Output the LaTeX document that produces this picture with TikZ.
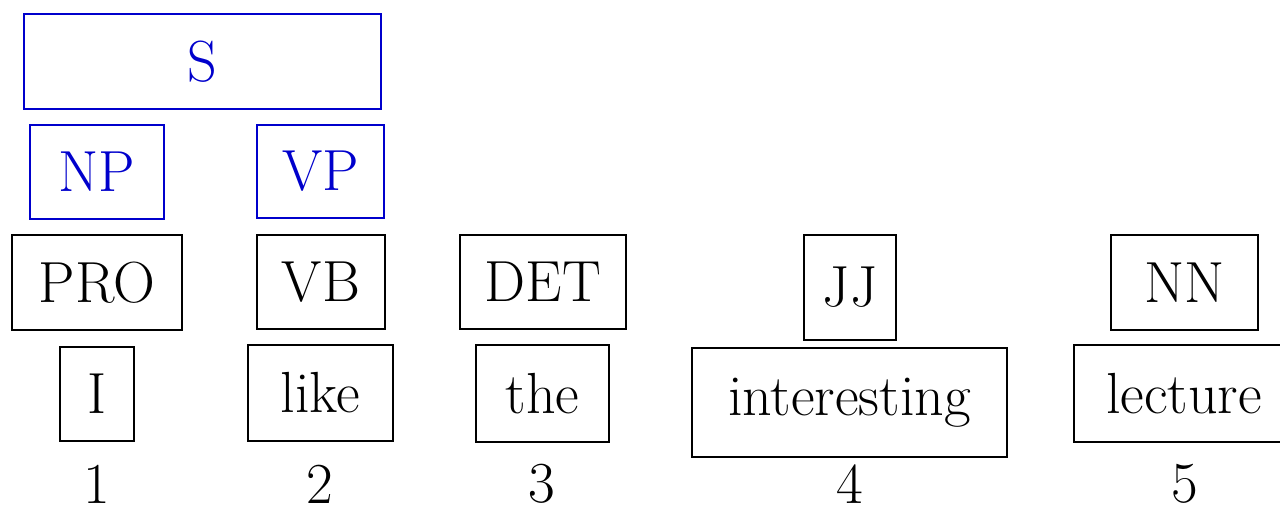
\documentclass[tikz,border=0pt]{standalone}
\definecolor{phraseblue}{RGB}{0,0,204}
\begin{document}
\begin{tikzpicture}[x=0.2mm,y=-0.2mm,
		box/.style={draw, line width=1.1pt, inner sep=0pt, font=\fontsize{33}{40}\selectfont},
		phrase/.style={box, draw=phraseblue, text=phraseblue},
		index/.style={inner sep=0pt, font=\fontsize{33}{40}\selectfont}]
		\useasboundingbox (0,0) rectangle (1280,507);
		% phrases
		\node[phrase, minimum width=71.4mm, minimum height=19mm] (s) at (202.5,61.5) {S};
		\node[phrase, minimum width=26.8mm, minimum height=18.8mm] (np) at (97,172) {NP};
		\node[phrase, minimum width=25.4mm, minimum height=18.6mm] (vp) at (320.5,171.5) {VP};
		% tags
		\node[box, minimum width=34mm, minimum height=19mm] (pro) at (97,282.5) {PRO};
		\node[box, minimum width=25.6mm, minimum height=18.8mm] (vb) at (321,282) {VB};
		\node[box, minimum width=33.2mm, minimum height=18.8mm] (det) at (543,282) {DET};
		\node[box, minimum width=18.4mm, minimum height=21mm] (jj) at (850,287.5) {JJ};
		\node[box, minimum width=29.4mm, minimum height=19mm] (nn) at (1184.5,282.5) {NN};
		% words
		\node[box, minimum width=14.8mm, minimum height=18.8mm] (w1) at (97,394) {I};
		\node[box, minimum width=29mm, minimum height=19.2mm] (w2) at (320.5,393) {like};
		\node[box, minimum width=26.6mm, minimum height=19.4mm] (w3) at (542.5,393.5) {the};
		\node[box, minimum width=63mm, minimum height=21.8mm] (w4) at (849.5,402.5) {interesting};
		\node[box, minimum width=44mm, minimum height=19.4mm] (w5) at (1184,393.5) {lecture};
		% positions
		\node[index] (n1) at (97,484) {1};
		\node[index] (n2) at (320,484) {2};
		\node[index] (n3) at (542,484) {3};
		\node[index] (n4) at (850,484) {4};
		\node[index] (n5) at (1185,484) {5};
\end{tikzpicture}
\end{document}
